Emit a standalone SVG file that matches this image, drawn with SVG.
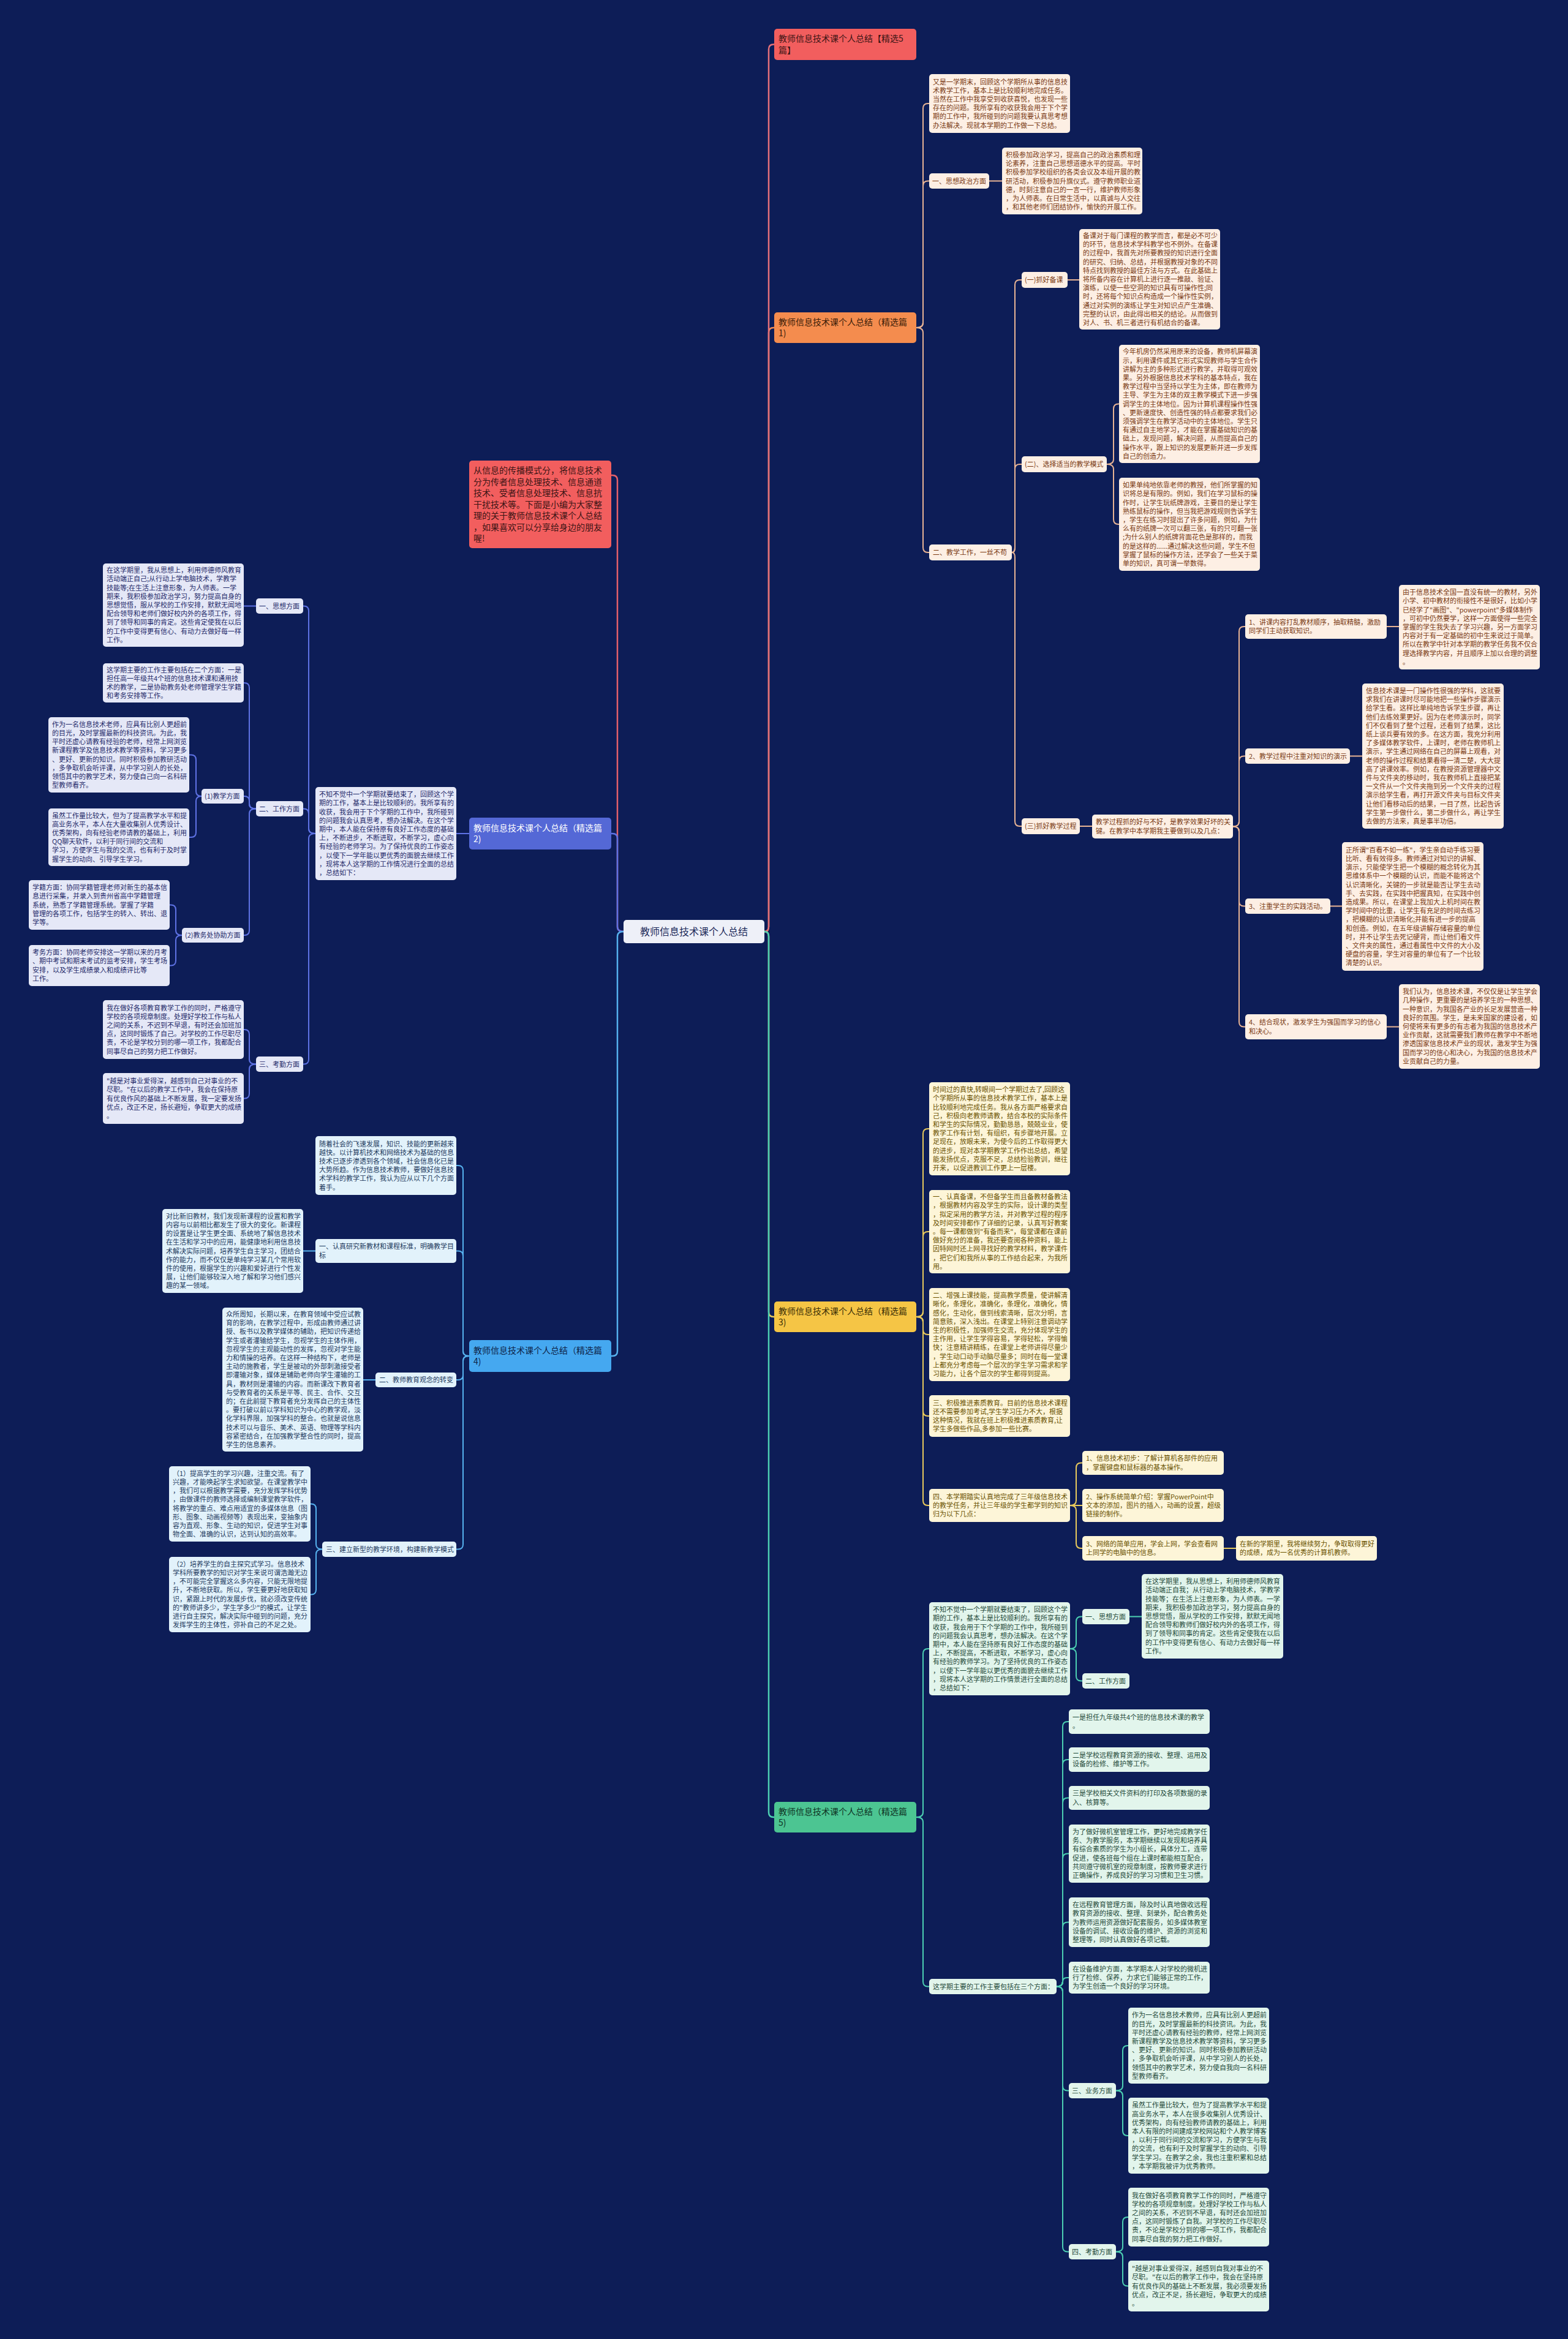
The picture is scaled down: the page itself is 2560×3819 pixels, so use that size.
<svg xmlns="http://www.w3.org/2000/svg" width="2560" height="3819" viewBox="0 0 2560 3819">
<style>
.s{font-family:"Noto Sans CJK SC","Noto Sans",sans-serif;font-size:11px}
.b{font-family:"Noto Sans CJK SC","Noto Sans",sans-serif;font-size:14px}
.f1{fill:#fdefe4}.t1{fill:#7a3a12}
.f2{fill:#e5e8f7}.t2{fill:#1f2a6a}
.f3{fill:#fdf5d8}.t3{fill:#6b5300}
.f4{fill:#e2f2fb}.t4{fill:#1d3a5e}
.f5{fill:#e2f5ec}.t5{fill:#1f4a3a}
.c1{stroke:#e7b394}.c2{stroke:#5e72e4}.c3{stroke:#e8c95c}.c4{stroke:#56b1ee}.c5{stroke:#4ccfb2}
</style>
<rect width="2560" height="3819" fill="#0d1d57"/>
<g id="connectors" fill="none" stroke-width="2" stroke-linecap="round">
<path stroke="#ee8a55" stroke-width="2.5" d="M1248,1521 Q1255,1521 1255,1513 V543 Q1255,535 1263,535 H1264"/>
<path stroke="#e4707a" stroke-width="2.5" d="M1248,1521 Q1255,1521 1255,1513 V80.5 Q1255,72.5 1263,72.5 H1264"/>
<path stroke="#e8c95c" stroke-width="2.5" d="M1248,1521 Q1255,1521 1255,1529 V2142 Q1255,2150 1263,2150 H1264"/>
<path stroke="#4ccfb2" stroke-width="2.5" d="M1248,1521 Q1255,1521 1255,1529 V2959 Q1255,2967 1263,2967 H1264"/>
<path stroke="#e4606a" stroke-width="2.5" d="M1018,1521 Q1008,1521 1008,1513 V784 Q1008,776 1000,776 H998"/>
<path stroke="#5e72e4" stroke-width="2.5" d="M1018,1521 Q1008,1521 1008,1513 V1369 Q1008,1361 1000,1361 H998"/>
<path stroke="#56b1ee" stroke-width="2.5" d="M1018,1521 Q1008,1521 1008,1529 V2206 Q1008,2214 1000,2214 H998"/>
<g class="c1">
<path d="M1496,535 Q1507,535 1507,527 V177 Q1507,169 1515,169 H1517"/>
<path d="M1496,535 Q1507,535 1507,527 V303.5 Q1507,295.5 1515,295.5 H1517"/>
<path d="M1496,535 Q1507,535 1507,543 V894 Q1507,902 1515,902 H1517"/>
<path d="M1615,295.5 H1636"/>
<path d="M1652,902 Q1657,902 1657,894 V465 Q1657,457 1665,457 H1668"/>
<path d="M1652,902 Q1657,902 1657,894 V766 Q1657,758 1665,758 H1668"/>
<path d="M1652,902 Q1657,902 1657,910 V1341 Q1657,1349 1665,1349 H1668"/>
<path d="M1743,457 H1762"/>
<path d="M1807,758 Q1818,758 1818,750 V667.5 Q1818,659.5 1826,659.5 H1827"/>
<path d="M1807,758 Q1818,758 1818,766 V848 Q1818,856 1826,856 H1827"/>
<path d="M1763,1349 H1783"/>
<path d="M2013,1349.5 Q2023,1349.5 2023,1341.5 V1031 Q2023,1023 2031,1023 H2033"/>
<path d="M2013,1349.5 Q2023,1349.5 2023,1341.5 V1242.5 Q2023,1234.5 2031,1234.5 H2033"/>
<path d="M2013,1349.5 Q2023,1349.5 2023,1357.5 V1471.5 Q2023,1479.5 2031,1479.5 H2033"/>
<path d="M2013,1349.5 Q2023,1349.5 2023,1357.5 V1668.5 Q2023,1676.5 2031,1676.5 H2033"/>
<path d="M2264,1023 H2284"/>
<path d="M2204,1234.5 H2224"/>
<path d="M2172,1479.5 H2191"/>
<path d="M2264,1676.5 H2284"/>
</g>
<g class="c3">
<path d="M1496,2150 Q1507,2150 1507,2142 V1851 Q1507,1843 1515,1843 H1517"/>
<path d="M1496,2150 Q1507,2150 1507,2142 V2019 Q1507,2011 1515,2011 H1517"/>
<path d="M1496,2150 Q1507,2150 1507,2158 V2171 Q1507,2179 1515,2179 H1517"/>
<path d="M1496,2150 Q1507,2150 1507,2158 V2304 Q1507,2312 1515,2312 H1517"/>
<path d="M1496,2150 Q1507,2150 1507,2158 V2450 Q1507,2458 1515,2458 H1517"/>
<path d="M1747,2458 Q1757,2458 1757,2450 V2396.5 Q1757,2388.5 1765,2388.5 H1767"/>
<path d="M1747,2458 H1767"/>
<path d="M1747,2458 Q1757,2458 1757,2466 V2520 Q1757,2528 1765,2528 H1767"/>
<path d="M1998,2528 H2018"/>
</g>
<g class="c5">
<path d="M1496,2967 Q1507,2967 1507,2959 V2700 Q1507,2692 1515,2692 H1517"/>
<path d="M1496,2967 Q1507,2967 1507,2975 V3235.5 Q1507,3243.5 1515,3243.5 H1517"/>
<path d="M1747,2692 Q1757,2692 1757,2684 V2647.5 Q1757,2639.5 1765,2639.5 H1767"/>
<path d="M1747,2692 Q1757,2692 1757,2700 V2736.5 Q1757,2744.5 1765,2744.5 H1767"/>
<path d="M1844,2639.5 H1864"/>
<path d="M1725,3243.5 Q1735,3243.5 1735,3235.5 V2819 Q1735,2811 1743,2811 H1745"/>
<path d="M1725,3243.5 Q1735,3243.5 1735,3235.5 V2881 Q1735,2873 1743,2873 H1745"/>
<path d="M1725,3243.5 Q1735,3243.5 1735,3235.5 V2943.5 Q1735,2935.5 1743,2935.5 H1745"/>
<path d="M1725,3243.5 Q1735,3243.5 1735,3235.5 V3034.5 Q1735,3026.5 1743,3026.5 H1745"/>
<path d="M1725,3243.5 Q1735,3243.5 1735,3235.5 V3146.5 Q1735,3138.5 1743,3138.5 H1745"/>
<path d="M1725,3243.5 Q1735,3243.5 1735,3236.25 Q1735,3229 1742,3229 H1745"/>
<path d="M1725,3243.5 Q1735,3243.5 1735,3251.5 V3405.5 Q1735,3413.5 1743,3413.5 H1745"/>
<path d="M1725,3243.5 Q1735,3243.5 1735,3251.5 V3668.5 Q1735,3676.5 1743,3676.5 H1745"/>
<path d="M1822,3413.5 Q1833,3413.5 1833,3405.5 V3348 Q1833,3340 1841,3340 H1842"/>
<path d="M1822,3413.5 Q1833,3413.5 1833,3421.5 V3479 Q1833,3487 1841,3487 H1842"/>
<path d="M1822,3676.5 Q1833,3676.5 1833,3668.5 V3628 Q1833,3620 1841,3620 H1842"/>
<path d="M1822,3676.5 Q1833,3676.5 1833,3684.5 V3724.5 Q1833,3732.5 1841,3732.5 H1842"/>
</g>
<g class="c2">
<path d="M766,1361 H745"/>
<path d="M515,1361 Q504,1361 504,1353 V997.5 Q504,989.5 496,989.5 H495"/>
<path d="M515,1361 Q504,1361 504,1353 V1328.5 Q504,1320.5 496,1320.5 H495"/>
<path d="M515,1361 Q504,1361 504,1369 V1729.5 Q504,1737.5 496,1737.5 H495"/>
<path d="M418,989.5 H398"/>
<path d="M418,1320.5 Q407,1320.5 407,1312.5 V1123 Q407,1115 399,1115 H398"/>
<path d="M418,1320.5 Q407,1320.5 407,1312.5 V1308 Q407,1300 399,1300 H398"/>
<path d="M418,1320.5 Q407,1320.5 407,1328.5 V1519 Q407,1527 399,1527 H398"/>
<path d="M329,1300 Q320,1300 320,1292 V1240.5 Q320,1232.5 312,1232.5 H309"/>
<path d="M329,1300 Q320,1300 320,1308 V1359 Q320,1367 312,1367 H309"/>
<path d="M297,1527 Q287,1527 287,1519 V1485.5 Q287,1477.5 279,1477.5 H277"/>
<path d="M297,1527 Q287,1527 287,1535 V1568.5 Q287,1576.5 279,1576.5 H277"/>
<path d="M418,1737.5 Q407,1737.5 407,1729.5 V1689 Q407,1681 399,1681 H398"/>
<path d="M418,1737.5 Q407,1737.5 407,1745.5 V1785.5 Q407,1793.5 399,1793.5 H398"/>
</g>
<g class="c4">
<path d="M766,2214 Q756,2214 756,2206 V1911 Q756,1903 748,1903 H745"/>
<path d="M766,2214 Q756,2214 756,2206 V2050.5 Q756,2042.5 748,2042.5 H745"/>
<path d="M766,2214 Q756,2214 756,2222 V2245 Q756,2253 748,2253 H745"/>
<path d="M766,2214 Q756,2214 756,2222 V2521.5 Q756,2529.5 748,2529.5 H745"/>
<path d="M515,2042.5 H495"/>
<path d="M613,2253 H593"/>
<path d="M526,2529.5 Q516,2529.5 516,2521.5 V2463.5 Q516,2455.5 508,2455.5 H507"/>
<path d="M526,2529.5 Q516,2529.5 516,2537.5 V2595.5 Q516,2603.5 508,2603.5 H507"/>
</g>
</g>

<g id="root"><rect x="1018" y="1502" width="230" height="38" rx="5" fill="#eef0f8"/><text class="b" x="1133" y="1527" text-anchor="middle" fill="#1d2a5a" style="font-size:16px">教师信息技术课个人总结</text></g>

<g id="b1-title"><rect x="1264" y="47" width="232" height="51" rx="5" fill="#f25e5e"/><text class="b" fill="#3c1515"><tspan x="1271" y="68.4">教师信息技术课个人总结【精选5</tspan><tspan x="1271" dy="18.3">篇】</tspan></text></g>
<g id="intro"><rect x="766" y="752" width="232" height="143" rx="5" fill="#f25e5e"/><text class="b" fill="#3c1515"><tspan x="773" y="773">从信息的传播模式分，将信息技术</tspan><tspan x="773" dy="18.5">分为传者信息处理技术、信息通道</tspan><tspan x="773" dy="18.5">技术、受者信息处理技术、信息抗</tspan><tspan x="773" dy="18.5">干扰技术等。下面是小编为大家整</tspan><tspan x="773" dy="18.5">理的关于教师信息技术课个人总结</tspan><tspan x="773" dy="18.5">，如果喜欢可以分享给身边的朋友</tspan><tspan x="773" dy="18.5">喔!</tspan></text></g>
<g id="b1"><rect x="1264" y="510" width="232" height="50" rx="5" fill="#f48c4e"/><text class="b" fill="#3a1c08"><tspan x="1271" y="530.9">教师信息技术课个人总结（精选篇</tspan><tspan x="1271" dy="18.3">1)</tspan></text></g>
<g id="b2"><rect x="766" y="1335" width="232" height="52" rx="5" fill="#5468d6"/><text class="b" fill="#ffffff"><tspan x="773" y="1356.9">教师信息技术课个人总结（精选篇</tspan><tspan x="773" dy="18.3">2)</tspan></text></g>
<g id="b3"><rect x="1264" y="2125" width="232" height="50" rx="5" fill="#f5c545"/><text class="b" fill="#3a2e05"><tspan x="1271" y="2145.9">教师信息技术课个人总结（精选篇</tspan><tspan x="1271" dy="18.3">3)</tspan></text></g>
<g id="b4"><rect x="766" y="2188" width="232" height="52" rx="5" fill="#45a8f0"/><text class="b" fill="#0e2448"><tspan x="773" y="2209.9">教师信息技术课个人总结（精选篇</tspan><tspan x="773" dy="18.3">4)</tspan></text></g>
<g id="b5"><rect x="1264" y="2942" width="232" height="50" rx="5" fill="#4cc592"/><text class="b" fill="#0e3324"><tspan x="1271" y="2962.9">教师信息技术课个人总结（精选篇</tspan><tspan x="1271" dy="18.3">5)</tspan></text></g>

<g id="b1-a1"><rect class="f1" x="1517" y="121" width="230" height="96" rx="5"/><text class="s t1"><tspan x="1523" y="137.5">又是一学期末，回顾这个学期所从事的信息技</tspan><tspan x="1523" dy="14.2">术教学工作，基本上是比较顺利地完成任务。</tspan><tspan x="1523" dy="14.2">当然在工作中我享受到收获喜悦，也发现一些</tspan><tspan x="1523" dy="14.2">存在的问题。我所享有的收获我会用于下个学</tspan><tspan x="1523" dy="14.2">期的工作中，我所碰到的问题我要认真思考想</tspan><tspan x="1523" dy="14.2">办法解决。现就本学期的工作做一下总结。</tspan></text></g>
<g id="b1-s1"><rect class="f1" x="1517" y="283" width="98" height="25" rx="5"/><text class="s t1" x="1522" y="299.5">一、思想政治方面</text></g>
<g id="b1-s1a"><rect class="f1" x="1636" y="241" width="229" height="109" rx="5"/><text class="s t1"><tspan x="1642" y="256.9">积极参加政治学习，提高自己的政治素质和理</tspan><tspan x="1642" dy="14.2">论素养，注重自己思想道德水平的提高。平时</tspan><tspan x="1642" dy="14.2">积极参加学校组织的各类会议及本组开展的教</tspan><tspan x="1642" dy="14.2">研活动，积极参加升旗仪式。遵守教师职业道</tspan><tspan x="1642" dy="14.2">德，时刻注意自己的一言一行，维护教师形象</tspan><tspan x="1642" dy="14.2">，为人师表。在日常生活中，以真诚与人交往</tspan><tspan x="1642" dy="14.2">，和其他老师们团结协作，愉快的开展工作。</tspan></text></g>
<g id="b1-s2"><rect class="f1" x="1517" y="889" width="135" height="26" rx="5"/><text class="s t1" x="1523" y="906">二、教学工作，一丝不苟</text></g>
<g id="b1-p1"><rect class="f1" x="1668" y="444" width="75" height="26" rx="5"/><text class="s t1" x="1673" y="461">(一)抓好备课</text></g>
<g id="b1-p1a"><rect class="f1" x="1762" y="374" width="230" height="164" rx="5"/><text class="s t1"><tspan x="1768" y="389">备课对于每门课程的教学而言，都是必不可少</tspan><tspan x="1768" dy="14.2">的环节，信息技术学科教学也不例外。在备课</tspan><tspan x="1768" dy="14.2">的过程中，我首先对所要教授的知识进行全面</tspan><tspan x="1768" dy="14.2">的研究、归纳、总结，并根据教授对象的不同</tspan><tspan x="1768" dy="14.2">特点找到教授的最佳方法与方式。在此基础上</tspan><tspan x="1768" dy="14.2">将所备内容在计算机上进行逐一推敲、验证、</tspan><tspan x="1768" dy="14.2">演练，以使一些空洞的知识具有可操作性;同</tspan><tspan x="1768" dy="14.2">时，还将每个知识点构造成一个操作性实例，</tspan><tspan x="1768" dy="14.2">通过对实例的演练让学生对知识点产生准确、</tspan><tspan x="1768" dy="14.2">完整的认识，由此得出相关的结论。从而做到</tspan><tspan x="1768" dy="14.2">对人、书、机三者进行有机结合的备课。</tspan></text></g>
<g id="b1-p2"><rect class="f1" x="1668" y="745" width="139" height="26" rx="5"/><text class="s t1" x="1673" y="762">(二)、选择适当的教学模式</text></g>
<g id="b1-p2a"><rect class="f1" x="1827" y="563" width="230" height="193" rx="5"/><text class="s t1"><tspan x="1833" y="578.3">今年机房仍然采用原来的设备，教师机屏幕演</tspan><tspan x="1833" dy="14.2">示，利用课件或其它形式实现教师与学生合作</tspan><tspan x="1833" dy="14.2">讲解为主的多种形式进行教学，并取得可观效</tspan><tspan x="1833" dy="14.2">果。另外根据信息技术学科的基本特点，我在</tspan><tspan x="1833" dy="14.2">教学过程中当坚持以学生为主体，即在教师为</tspan><tspan x="1833" dy="14.2">主导、学生为主体的双主教学模式下进一步强</tspan><tspan x="1833" dy="14.2">调学生的主体地位。因为计算机课程操作性强</tspan><tspan x="1833" dy="14.2">、更新速度快、创造性强的特点都要求我们必</tspan><tspan x="1833" dy="14.2">须强调学生在教学活动中的主体地位。学生只</tspan><tspan x="1833" dy="14.2">有通过自主地学习，才能在掌握基础知识的基</tspan><tspan x="1833" dy="14.2">础上，发现问题，解决问题，从而提高自己的</tspan><tspan x="1833" dy="14.2">操作水平，跟上知识的发展更新并进一步发挥</tspan><tspan x="1833" dy="14.2">自己的创造力。</tspan></text></g>
<g id="b1-p2b"><rect class="f1" x="1827" y="780" width="230" height="152" rx="5"/><text class="s t1"><tspan x="1833" y="796.1">如果单纯地依靠老师的教授，他们所掌握的知</tspan><tspan x="1833" dy="14.2">识将总是有限的。例如，我们在学习鼠标的操</tspan><tspan x="1833" dy="14.2">作时，让学生玩纸牌游戏，主要目的是让学生</tspan><tspan x="1833" dy="14.2">熟练鼠标的操作，但当我把游戏规则告诉学生</tspan><tspan x="1833" dy="14.2">，学生在练习时提出了许多问题，例如，为什</tspan><tspan x="1833" dy="14.2">么有的纸牌一次可以翻三张，有的只可翻一张</tspan><tspan x="1833" dy="14.2">;为什么别人的纸牌背面花色是那样的，而我</tspan><tspan x="1833" dy="14.2">的是这样的......通过解决这些问题，学生不但</tspan><tspan x="1833" dy="14.2">掌握了鼠标的操作方法，还学会了一些关于菜</tspan><tspan x="1833" dy="14.2">单的知识，真可谓一举数得。</tspan></text></g>
<g id="b1-p3"><rect class="f1" x="1668" y="1336" width="95" height="26" rx="5"/><text class="s t1" x="1673" y="1353">(三)抓好教学过程</text></g>
<g id="b1-p3a"><rect class="f1" x="1783" y="1330" width="230" height="39" rx="5"/><text class="s t1"><tspan x="1789" y="1346.4">教学过程抓的好与不好，是教学效果好坏的关</tspan><tspan x="1789" dy="14.2">键。在教学中本学期我主要做到以及几点：</tspan></text></g>
<g id="b1-q1"><rect class="f1" x="2033" y="1003" width="231" height="40" rx="5"/><text class="s t1"><tspan x="2039" y="1019.9">1、讲课内容打乱教材顺序，抽取精髓，激励</tspan><tspan x="2039" dy="14.2">同学们主动获取知识。</tspan></text></g>
<g id="b1-q1a"><rect class="f1" x="2284" y="955" width="230" height="138" rx="5"/><text class="s t1"><tspan x="2290" y="971.2">由于信息技术全国一直没有统一的教材，另外</tspan><tspan x="2290" dy="14.2">小学、初中教材的衔接性不是很好，比如小学</tspan><tspan x="2290" dy="14.2">已经学了"画图"、"powerpoint"多媒体制作</tspan><tspan x="2290" dy="14.2">，可初中仍然要学，这样一方面使得一些完全</tspan><tspan x="2290" dy="14.2">掌握的学生我失去了学习兴趣，另一方面学习</tspan><tspan x="2290" dy="14.2">内容对于有一定基础的初中生来说过于简单。</tspan><tspan x="2290" dy="14.2">所以在教学中针对本学期的教学任务我不仅合</tspan><tspan x="2290" dy="14.2">理选择教学内容，并且顺序上加以合理的调整</tspan><tspan x="2290" dy="14.2">。</tspan></text></g>
<g id="b1-q2"><rect class="f1" x="2033" y="1222" width="171" height="25" rx="5"/><text class="s t1" x="2039" y="1238.5">2、教学过程中注重对知识的演示</text></g>
<g id="b1-q2a"><rect class="f1" x="2224" y="1116" width="231" height="237" rx="5"/><text class="s t1"><tspan x="2230" y="1132">信息技术课是一门操作性很强的学科，这就要</tspan><tspan x="2230" dy="14.2">求我们在讲课时尽可能地把一些操作步骤演示</tspan><tspan x="2230" dy="14.2">给学生看。这样比单纯地告诉学生步骤，再让</tspan><tspan x="2230" dy="14.2">他们去练效果更好。因为在老师演示时，同学</tspan><tspan x="2230" dy="14.2">们不仅看到了整个过程，还看到了结果，这比</tspan><tspan x="2230" dy="14.2">纸上谈兵要有效的多。在这方面，我充分利用</tspan><tspan x="2230" dy="14.2">了多媒体教学软件，上课时，老师在教师机上</tspan><tspan x="2230" dy="14.2">演示，学生通过网络在自己的屏幕上观看，对</tspan><tspan x="2230" dy="14.2">老师的操作过程和结果看得一清二楚，大大提</tspan><tspan x="2230" dy="14.2">高了讲课效率。例如，在教授资源管理器中文</tspan><tspan x="2230" dy="14.2">件与文件夹的移动时，我在教师机上直接把某</tspan><tspan x="2230" dy="14.2">一文件从一个文件夹拖到另一个文件夹的过程</tspan><tspan x="2230" dy="14.2">演示给学生看，再打开源文件夹与目标文件夹</tspan><tspan x="2230" dy="14.2">让他们看移动后的结果，一目了然，比起告诉</tspan><tspan x="2230" dy="14.2">学生第一步做什么，第二步做什么，再让学生</tspan><tspan x="2230" dy="14.2">去做的方法来，真是事半功倍。</tspan></text></g>
<g id="b1-q3"><rect class="f1" x="2033" y="1467" width="139" height="25" rx="5"/><text class="s t1" x="2039" y="1483.5">3、注重学生的实践活动。</text></g>
<g id="b1-q3a"><rect class="f1" x="2191" y="1375" width="231" height="210" rx="5"/><text class="s t1"><tspan x="2197" y="1391.7">正所谓"百看不如一练"，学生亲自动手练习要</tspan><tspan x="2197" dy="14.2">比听、看有效得多。教师通过对知识的讲解、</tspan><tspan x="2197" dy="14.2">演示，只能使学生把一个模糊的概念转化为其</tspan><tspan x="2197" dy="14.2">思维体系中一个模糊的认识，而能不能将这个</tspan><tspan x="2197" dy="14.2">认识清晰化，关键的一步就是能否让学生去动</tspan><tspan x="2197" dy="14.2">手、去实践，在实践中把握真知，在实践中创</tspan><tspan x="2197" dy="14.2">造成果。所以，在课堂上我加大上机时间在教</tspan><tspan x="2197" dy="14.2">学时间中的比重，让学生有充足的时间去练习</tspan><tspan x="2197" dy="14.2">，把模糊的认识清晰化;并能有进一步的提高</tspan><tspan x="2197" dy="14.2">和创造。例如，在五年级讲解存储容量的单位</tspan><tspan x="2197" dy="14.2">时，并不让学生去死记硬背，而让他们看文件</tspan><tspan x="2197" dy="14.2">、文件夹的属性，通过看属性中文件的大小及</tspan><tspan x="2197" dy="14.2">硬盘的容量，学生对容量的单位有了一个比较</tspan><tspan x="2197" dy="14.2">清楚的认识。</tspan></text></g>
<g id="b1-q4"><rect class="f1" x="2033" y="1656" width="231" height="41" rx="5"/><text class="s t1"><tspan x="2039" y="1673.4">4、结合现状，激发学生为强国而学习的信心</tspan><tspan x="2039" dy="14.2">和决心。</tspan></text></g>
<g id="b1-q4a"><rect class="f1" x="2284" y="1607" width="230" height="138" rx="5"/><text class="s t1"><tspan x="2290" y="1623.2">我们认为，信息技术课，不仅仅是让学生学会</tspan><tspan x="2290" dy="14.2">几种操作，更重要的是培养学生的一种思想、</tspan><tspan x="2290" dy="14.2">一种意识，为我国各产业的长足发展营造一种</tspan><tspan x="2290" dy="14.2">良好的氛围。学生，是未来国家的建设者，如</tspan><tspan x="2290" dy="14.2">何使将来有更多的有志者为我国的信息技术产</tspan><tspan x="2290" dy="14.2">业作贡献，这就需要我们教师在教学中不断地</tspan><tspan x="2290" dy="14.2">渗透国家信息技术产业的现状，激发学生为强</tspan><tspan x="2290" dy="14.2">国而学习的信心和决心，为我国的信息技术产</tspan><tspan x="2290" dy="14.2">业贡献自己的力量。</tspan></text></g>

<g id="b2-a"><rect class="f2" x="515" y="1285" width="230" height="152" rx="5"/><text class="s t2"><tspan x="521" y="1301.1">不知不觉中一个学期就要结束了，回顾这个学</tspan><tspan x="521" dy="14.2">期的工作，基本上是比较顺利的。我所享有的</tspan><tspan x="521" dy="14.2">收获，我会用于下个学期的工作中，我所碰到</tspan><tspan x="521" dy="14.2">的问题我会认真思考，想办法解决。在这个学</tspan><tspan x="521" dy="14.2">期中，本人能在保持原有良好工作态度的基础</tspan><tspan x="521" dy="14.2">上，不断进步，不断进取，不断学习，虚心向</tspan><tspan x="521" dy="14.2">有经验的老师学习。为了保持优良的工作姿态</tspan><tspan x="521" dy="14.2">，以使下一学年能以更优秀的面貌去继续工作</tspan><tspan x="521" dy="14.2">，现将本人这学期的工作情况进行全面的总结</tspan><tspan x="521" dy="14.2">，总结如下：</tspan></text></g>
<g id="b2-s1"><rect class="f2" x="418" y="977" width="77" height="25" rx="5"/><text class="s t2" x="423" y="993.5">一、思想方面</text></g>
<g id="b2-s1a"><rect class="f2" x="168" y="920" width="230" height="136" rx="5"/><text class="s t2"><tspan x="174" y="935.2">在这学期里，我从思想上，利用师德师风教育</tspan><tspan x="174" dy="14.2">活动端正自己;从行动上学电脑技术，学教学</tspan><tspan x="174" dy="14.2">技能等;在生活上注意形象，为人师表。一学</tspan><tspan x="174" dy="14.2">期来，我积极参加政治学习，努力提高自身的</tspan><tspan x="174" dy="14.2">思想觉悟，服从学校的工作安排，默默无闻地</tspan><tspan x="174" dy="14.2">配合领导和老师们做好校内外的各项工作，得</tspan><tspan x="174" dy="14.2">到了领导和同事的肯定。这些肯定使我在以后</tspan><tspan x="174" dy="14.2">的工作中变得更有信心、有动力去做好每一样</tspan><tspan x="174" dy="14.2">工作。</tspan></text></g>
<g id="b2-s2"><rect class="f2" x="418" y="1308" width="77" height="25" rx="5"/><text class="s t2" x="423" y="1324.5">二、工作方面</text></g>
<g id="b2-s2a"><rect class="f2" x="168" y="1083" width="230" height="64" rx="5"/><text class="s t2"><tspan x="174" y="1097.7">这学期主要的工作主要包括在二个方面：一是</tspan><tspan x="174" dy="14.2">担任高一年级共4个班的信息技术课和通用技</tspan><tspan x="174" dy="14.2">术的教学，二是协助教务处老师管理学生学籍</tspan><tspan x="174" dy="14.2">和考务安排等工作。</tspan></text></g>
<g id="b2-t1"><rect class="f2" x="329" y="1288" width="69" height="24" rx="5"/><text class="s t2" x="334" y="1304">(1)教学方面</text></g>
<g id="b2-t1a"><rect class="f2" x="79" y="1171" width="230" height="123" rx="5"/><text class="s t2"><tspan x="85" y="1186.8">作为一名信息技术老师，应具有比别人更超前</tspan><tspan x="85" dy="14.2">的目光，及时掌握最新的科技资讯。为此，我</tspan><tspan x="85" dy="14.2">平时还虚心请教有经验的老师，经常上网浏览</tspan><tspan x="85" dy="14.2">新课程教学及信息技术教学等资料，学习更多</tspan><tspan x="85" dy="14.2">、更好、更新的知识。同时积极参加教研活动</tspan><tspan x="85" dy="14.2">，多争取机会听评课，从中学习别人的长处，</tspan><tspan x="85" dy="14.2">领悟其中的教学艺术，努力使自己向一名科研</tspan><tspan x="85" dy="14.2">型教师看齐。</tspan></text></g>
<g id="b2-t1b"><rect class="f2" x="79" y="1320" width="230" height="94" rx="5"/><text class="s t2"><tspan x="85" y="1335.5">虽然工作量比较大，但为了提高教学水平和提</tspan><tspan x="85" dy="14.2">高业务水平，本人在大量收集别人优秀设计、</tspan><tspan x="85" dy="14.2">优秀架构，向有经验老师请教的基础上，利用</tspan><tspan x="85" dy="14.2">QQ聊天软件，以利于同行间的交流和</tspan><tspan x="85" dy="14.2">学习，方便学生与我的交流，也有利于及时掌</tspan><tspan x="85" dy="14.2">握学生的动向、引导学生学习。</tspan></text></g>
<g id="b2-t2"><rect class="f2" x="297" y="1515" width="101" height="24" rx="5"/><text class="s t2" x="302" y="1531">(2)教务处协助方面</text></g>
<g id="b2-t2a"><rect class="f2" x="47" y="1437" width="230" height="81" rx="5"/><text class="s t2"><tspan x="53" y="1453.1">学籍方面：协同学籍管理老师对新生的基本信</tspan><tspan x="53" dy="14.2">息进行采集，并录入到贵州省高中学籍管理</tspan><tspan x="53" dy="14.2">系统，熟悉了学籍管理系统。掌握了学籍</tspan><tspan x="53" dy="14.2">管理的各项工作，包括学生的转入、转出、退</tspan><tspan x="53" dy="14.2">学等。</tspan></text></g>
<g id="b2-t2b"><rect class="f2" x="47" y="1543" width="230" height="67" rx="5"/><text class="s t2"><tspan x="53" y="1559.2">考务方面：协同老师安排这一学期以来的月考</tspan><tspan x="53" dy="14.2">、期中考试和期末考试的监考安排，学生考场</tspan><tspan x="53" dy="14.2">安排，以及学生成绩录入和成绩评比等</tspan><tspan x="53" dy="14.2">工作。</tspan></text></g>
<g id="b2-s3"><rect class="f2" x="418" y="1725" width="77" height="25" rx="5"/><text class="s t2" x="423" y="1741.5">三、考勤方面</text></g>
<g id="b2-s3a"><rect class="f2" x="168" y="1633" width="230" height="96" rx="5"/><text class="s t2"><tspan x="174" y="1649.5">我在做好各项教育教学工作的同时，严格遵守</tspan><tspan x="174" dy="14.2">学校的各项规章制度。处理好学校工作与私人</tspan><tspan x="174" dy="14.2">之间的关系，不迟到不早退，有时还会加班加</tspan><tspan x="174" dy="14.2">点，这同时锻炼了自己。对学校的工作尽职尽</tspan><tspan x="174" dy="14.2">责，不论是学校分到的哪一项工作，我都配合</tspan><tspan x="174" dy="14.2">同事尽自己的努力把工作做好。</tspan></text></g>
<g id="b2-s3b"><rect class="f2" x="168" y="1752" width="230" height="83" rx="5"/><text class="s t2"><tspan x="174" y="1769.1">"越是对事业爱得深，越感到自己对事业的不</tspan><tspan x="174" dy="14.2">尽职。"在以后的教学工作中，我会在保持原</tspan><tspan x="174" dy="14.2">有优良作风的基础上不断发展，我一定要发扬</tspan><tspan x="174" dy="14.2">优点，改正不足，扬长避短，争取更大的成绩</tspan><tspan x="174" dy="14.2">。</tspan></text></g>

<g id="b3-a"><rect class="f3" x="1517" y="1767" width="230" height="152" rx="5"/><text class="s t3"><tspan x="1523" y="1783.1">时间过的真快,转眼间一个学期过去了,回顾这</tspan><tspan x="1523" dy="14.2">个学期所从事的信息技术教学工作，基本上是</tspan><tspan x="1523" dy="14.2">比较顺利地完成任务。我从各方面严格要求自</tspan><tspan x="1523" dy="14.2">己，积极向老教师请教，结合本校的实际条件</tspan><tspan x="1523" dy="14.2">和学生的实际情况，勤勤恳恳，兢兢业业，使</tspan><tspan x="1523" dy="14.2">教学工作有计划，有组织，有步骤地开展。立</tspan><tspan x="1523" dy="14.2">足现在，放眼未来，为使今后的工作取得更大</tspan><tspan x="1523" dy="14.2">的进步，现对本学期教学工作作出总结，希望</tspan><tspan x="1523" dy="14.2">能发扬优点，克服不足，总结检验教训，继往</tspan><tspan x="1523" dy="14.2">开来，以促进教训工作更上一层楼。</tspan></text></g>
<g id="b3-b"><rect class="f3" x="1517" y="1943" width="230" height="136" rx="5"/><text class="s t3"><tspan x="1523" y="1958.2">一、认真备课，不但备学生而且备教材备教法</tspan><tspan x="1523" dy="14.2">，根据教材内容及学生的实际，设计课的类型</tspan><tspan x="1523" dy="14.2">，拟定采用的教学方法，并对教学过程的程序</tspan><tspan x="1523" dy="14.2">及时间安排都作了详细的记录，认真写好教案</tspan><tspan x="1523" dy="14.2">。每一课都做到"有备而来"，每堂课都在课前</tspan><tspan x="1523" dy="14.2">做好充分的准备，我还要查阅各种资料，能上</tspan><tspan x="1523" dy="14.2">因特网时还上网寻找好的教学材料，教学课件</tspan><tspan x="1523" dy="14.2">，把它们和我所从事的工作结合起来，为我所</tspan><tspan x="1523" dy="14.2">用。</tspan></text></g>
<g id="b3-c"><rect class="f3" x="1517" y="2103" width="230" height="152" rx="5"/><text class="s t3"><tspan x="1523" y="2119.1">二、增强上课技能，提高教学质量，使讲解清</tspan><tspan x="1523" dy="14.2">晰化，条理化，准确化，条理化，准确化，情</tspan><tspan x="1523" dy="14.2">感化，生动化，做到线索清晰，层次分明，言</tspan><tspan x="1523" dy="14.2">简意赅，深入浅出。在课堂上特别注意调动学</tspan><tspan x="1523" dy="14.2">生的积极性，加强师生交流，充分体现学生的</tspan><tspan x="1523" dy="14.2">主作用，让学生学得容易，学得轻松，学得愉</tspan><tspan x="1523" dy="14.2">快；注意精讲精练，在课堂上老师讲得尽量少</tspan><tspan x="1523" dy="14.2">，学生动口动手动脑尽量多；同时在每一堂课</tspan><tspan x="1523" dy="14.2">上都充分考虑每一个层次的学生学习需求和学</tspan><tspan x="1523" dy="14.2">习能力，让各个层次的学生都得到提高。</tspan></text></g>
<g id="b3-d"><rect class="f3" x="1517" y="2278" width="230" height="68" rx="5"/><text class="s t3"><tspan x="1523" y="2294.7">三、积极推进素质教育。目前的信息技术课程</tspan><tspan x="1523" dy="14.2">还不需要参加考试,学生学习压力不大，根据</tspan><tspan x="1523" dy="14.2">这种情况，我就在班上积极推进素质教育,让</tspan><tspan x="1523" dy="14.2">学生多做些作品,多参加一些比赛。</tspan></text></g>
<g id="b3-e"><rect class="f3" x="1517" y="2431" width="230" height="54" rx="5"/><text class="s t3"><tspan x="1523" y="2447.8">四、本学期踏实认真地完成了三年级信息技术</tspan><tspan x="1523" dy="14.2">的教学任务，并让三年级的学生都学到的知识</tspan><tspan x="1523" dy="14.2">归为以下几点：</tspan></text></g>
<g id="b3-e1"><rect class="f3" x="1767" y="2369" width="231" height="39" rx="5"/><text class="s t3"><tspan x="1773" y="2385.4">1、信息技术初步：了解计算机各部件的应用</tspan><tspan x="1773" dy="14.2">，掌握键盘和鼠标器的基本操作。</tspan></text></g>
<g id="b3-e2"><rect class="f3" x="1767" y="2431" width="231" height="54" rx="5"/><text class="s t3"><tspan x="1773" y="2447.8">2、操作系统简单介绍：掌握PowerPoint中</tspan><tspan x="1773" dy="14.2">文本的添加，图片的插入，动画的设置，超级</tspan><tspan x="1773" dy="14.2">链接的制作。</tspan></text></g>
<g id="b3-e3"><rect class="f3" x="1767" y="2508" width="231" height="40" rx="5"/><text class="s t3"><tspan x="1773" y="2524.9">3、网络的简单应用，学会上网，学会查看网</tspan><tspan x="1773" dy="14.2">上同学的电脑中的信息。</tspan></text></g>
<g id="b3-e3a"><rect class="f3" x="2018" y="2508" width="230" height="40" rx="5"/><text class="s t3"><tspan x="2024" y="2524.9">在新的学期里，我将继续努力，争取取得更好</tspan><tspan x="2024" dy="14.2">的成绩，成为一名优秀的计算机教师。</tspan></text></g>

<g id="b4-a"><rect class="f4" x="515" y="1855" width="230" height="96" rx="5"/><text class="s t4"><tspan x="521" y="1871.5">随着社会的飞速发展，知识、技能的更新越来</tspan><tspan x="521" dy="14.2">越快。以计算机技术和网络技术为基础的信息</tspan><tspan x="521" dy="14.2">技术已逐步渗透到各个领域，社会信息化已是</tspan><tspan x="521" dy="14.2">大势所趋。作为信息技术教师，要做好信息技</tspan><tspan x="521" dy="14.2">术学科的教学工作，我认为应从以下几个方面</tspan><tspan x="521" dy="14.2">着手。</tspan></text></g>
<g id="b4-s1"><rect class="f4" x="515" y="2023" width="230" height="39" rx="5"/><text class="s t4"><tspan x="521" y="2039.4">一、认真研究新教材和课程标准，明确教学目</tspan><tspan x="521" dy="14.2">标</tspan></text></g>
<g id="b4-s1a"><rect class="f4" x="265" y="1974" width="230" height="137" rx="5"/><text class="s t4"><tspan x="271" y="1989.7">对比新旧教材，我们发现新课程的设置和教学</tspan><tspan x="271" dy="14.2">内容与以前相比都发生了很大的变化。新课程</tspan><tspan x="271" dy="14.2">的设置是让学生更全面、系统地了解信息技术</tspan><tspan x="271" dy="14.2">在生活和学习中的应用，能健康地利用信息技</tspan><tspan x="271" dy="14.2">术解决实际问题，培养学生自主学习，团结合</tspan><tspan x="271" dy="14.2">作的能力，而不仅仅是单纯学习某几个常用软</tspan><tspan x="271" dy="14.2">件的使用，根据学生的兴趣和爱好进行个性发</tspan><tspan x="271" dy="14.2">展，让他们能够较深入地了解和学习他们感兴</tspan><tspan x="271" dy="14.2">趣的某一领域。</tspan></text></g>
<g id="b4-s2"><rect class="f4" x="613" y="2241" width="132" height="24" rx="5"/><text class="s t4" x="619" y="2257">二、教师教育观念的转变</text></g>
<g id="b4-s2a"><rect class="f4" x="363" y="2135" width="230" height="235" rx="5"/><text class="s t4"><tspan x="369" y="2150">众所周知，长期以来，在教育领域中受应试教</tspan><tspan x="369" dy="14.2">育的影响，在教学过程中，形成由教师通过讲</tspan><tspan x="369" dy="14.2">授、板书以及教学媒体的辅助，把知识传递给</tspan><tspan x="369" dy="14.2">学生或者灌输给学生，忽视学生的主体作用，</tspan><tspan x="369" dy="14.2">忽视学生的主观能动性的发挥，忽视对学生能</tspan><tspan x="369" dy="14.2">力和情操的培养。在这样一种结构下，老师是</tspan><tspan x="369" dy="14.2">主动的施教者，学生是被动的外部刺激接受者</tspan><tspan x="369" dy="14.2">即灌输对象，媒体是辅助老师向学生灌输的工</tspan><tspan x="369" dy="14.2">具，教材则是灌输的内容。而新课改下教育者</tspan><tspan x="369" dy="14.2">与受教育者的关系是平等、民主、合作、交互</tspan><tspan x="369" dy="14.2">的；在此前提下教育者充分发挥自己的主体性</tspan><tspan x="369" dy="14.2">。要打破以前以学科知识为中心的教学观，淡</tspan><tspan x="369" dy="14.2">化学科界限，加强学科的整合。也就是说信息</tspan><tspan x="369" dy="14.2">技术可以与音乐、美术、英语、物理等学科内</tspan><tspan x="369" dy="14.2">容紧密结合，在加强教学整合性的同时，提高</tspan><tspan x="369" dy="14.2">学生的信息素养。</tspan></text></g>
<g id="b4-s3"><rect class="f4" x="526" y="2517" width="219" height="25" rx="5"/><text class="s t4" x="532" y="2533.5">三、建立新型的教学环境，构建新教学模式</text></g>
<g id="b4-s3a"><rect class="f4" x="276" y="2394" width="231" height="123" rx="5"/><text class="s t4"><tspan x="282" y="2409.8">（1）提高学生的学习兴趣，注重交流。有了</tspan><tspan x="282" dy="14.2">兴趣，才能唤起学生求知欲望。在课堂教学中</tspan><tspan x="282" dy="14.2">，我们可以根据教学需要，充分发挥学科优势</tspan><tspan x="282" dy="14.2">，由做课件的教师选择或编制课堂教学软件，</tspan><tspan x="282" dy="14.2">将教学的重点、难点用适宜的多媒体信息（图</tspan><tspan x="282" dy="14.2">形、图象、动画视频等）表现出来，变抽象内</tspan><tspan x="282" dy="14.2">容为直观、形象、生动的知识，促进学生对事</tspan><tspan x="282" dy="14.2">物全面、准确的认识，达到认知的高效率。</tspan></text></g>
<g id="b4-s3b"><rect class="f4" x="276" y="2542" width="231" height="123" rx="5"/><text class="s t4"><tspan x="282" y="2557.8">（2）培养学生的自主探究式学习。信息技术</tspan><tspan x="282" dy="14.2">学科所要教学的知识对学生来说可谓浩瀚无边</tspan><tspan x="282" dy="14.2">，不可能完全掌握这么多内容，只能无限地提</tspan><tspan x="282" dy="14.2">升，不断地获取。所以，学生要更好地获取知</tspan><tspan x="282" dy="14.2">识，紧跟上时代的发展步伐，就必须改变传统</tspan><tspan x="282" dy="14.2">的"教师讲多少，学生学多少"的模式，让学生</tspan><tspan x="282" dy="14.2">进行自主探究，解决实际中碰到的问题，充分</tspan><tspan x="282" dy="14.2">发挥学生的主体性，弥补自己的不足之处。</tspan></text></g>

<g id="b5-a"><rect class="f5" x="1517" y="2616" width="230" height="152" rx="5"/><text class="s t5"><tspan x="1523" y="2632.1">不知不觉中一个学期就要结束了，回顾这个学</tspan><tspan x="1523" dy="14.2">期的工作，基本上是比较顺利的。我所享有的</tspan><tspan x="1523" dy="14.2">收获，我会用于下个学期的工作中，我所碰到</tspan><tspan x="1523" dy="14.2">的问题我会认真思考，想办法解决。在这个学</tspan><tspan x="1523" dy="14.2">期中，本人能在坚持原有良好工作态度的基础</tspan><tspan x="1523" dy="14.2">上，不断提高，不断进取，不断学习，虚心向</tspan><tspan x="1523" dy="14.2">有经验的教师学习。为了坚持优良的工作姿态</tspan><tspan x="1523" dy="14.2">，以使下一学年能以更优秀的面貌去继续工作</tspan><tspan x="1523" dy="14.2">，现将本人这学期的工作情景进行全面的总结</tspan><tspan x="1523" dy="14.2">，总结如下：</tspan></text></g>
<g id="b5-s1"><rect class="f5" x="1767" y="2627" width="77" height="25" rx="5"/><text class="s t5" x="1772" y="2643.5">一、思想方面</text></g>
<g id="b5-s1a"><rect class="f5" x="1864" y="2570" width="231" height="138" rx="5"/><text class="s t5"><tspan x="1870" y="2586.2">在这学期里，我从思想上，利用师德师风教育</tspan><tspan x="1870" dy="14.2">活动端正自我；从行动上学电脑技术，学教学</tspan><tspan x="1870" dy="14.2">技能等；在生活上注意形象，为人师表。一学</tspan><tspan x="1870" dy="14.2">期来，我积极参加政治学习，努力提高自身的</tspan><tspan x="1870" dy="14.2">思想觉悟，服从学校的工作安排，默默无闻地</tspan><tspan x="1870" dy="14.2">配合领导和教师们做好校内外的各项工作，得</tspan><tspan x="1870" dy="14.2">到了领导和同事的肯定。这些肯定使我在以后</tspan><tspan x="1870" dy="14.2">的工作中变得更有信心、有动力去做好每一样</tspan><tspan x="1870" dy="14.2">工作。</tspan></text></g>
<g id="b5-s2"><rect class="f5" x="1767" y="2732" width="77" height="25" rx="5"/><text class="s t5" x="1772" y="2748.5">二、工作方面</text></g>
<g id="b5-b"><rect class="f5" x="1517" y="3231" width="208" height="25" rx="5"/><text class="s t5" x="1523" y="3247.5">这学期主要的工作主要包括在三个方面：</text></g>
<g id="b5-g1"><rect class="f5" x="1745" y="2791" width="230" height="40" rx="5"/><text class="s t5"><tspan x="1751" y="2807.9">一是担任九年级共4个班的信息技术课的教学</tspan><tspan x="1751" dy="14.2">。</tspan></text></g>
<g id="b5-g2"><rect class="f5" x="1745" y="2853" width="230" height="40" rx="5"/><text class="s t5"><tspan x="1751" y="2869.9">二是学校远程教育资源的接收、整理、运用及</tspan><tspan x="1751" dy="14.2">设备的检修、维护等工作。</tspan></text></g>
<g id="b5-g3"><rect class="f5" x="1745" y="2916" width="230" height="39" rx="5"/><text class="s t5"><tspan x="1751" y="2932.4">三是学校相关文件资料的打印及各项数据的录</tspan><tspan x="1751" dy="14.2">入、核算等。</tspan></text></g>
<g id="b5-g4"><rect class="f5" x="1745" y="2979" width="230" height="95" rx="5"/><text class="s t5"><tspan x="1751" y="2995">为了做好微机室管理工作，更好地完成教学任</tspan><tspan x="1751" dy="14.2">务、为教学服务，本学期继续以发现和培养具</tspan><tspan x="1751" dy="14.2">有综合素质的学生为小组长，具体分工，连带</tspan><tspan x="1751" dy="14.2">促进，使各班每个组在上课时都能相互配合，</tspan><tspan x="1751" dy="14.2">共同遵守微机室的规章制度，按教师要求进行</tspan><tspan x="1751" dy="14.2">正确操作，养成良好的学习习惯和卫生习惯。</tspan></text></g>
<g id="b5-g5"><rect class="f5" x="1745" y="3098" width="230" height="81" rx="5"/><text class="s t5"><tspan x="1751" y="3114.1">在远程教育管理方面，除及时认真地做收远程</tspan><tspan x="1751" dy="14.2">教育资源的接收、整理、刻录外，配合教务处</tspan><tspan x="1751" dy="14.2">为教师运用资源做好配套服务，如多媒体教室</tspan><tspan x="1751" dy="14.2">设备的调试、接收设备的维护、资源的浏览和</tspan><tspan x="1751" dy="14.2">整理等，同时认真做好各项记载。</tspan></text></g>
<g id="b5-g6"><rect class="f5" x="1745" y="3203" width="230" height="52" rx="5"/><text class="s t5"><tspan x="1751" y="3218.8">在设备维护方面，本学期本人对学校的微机进</tspan><tspan x="1751" dy="14.2">行了检修、保养，力求它们能够正常的工作，</tspan><tspan x="1751" dy="14.2">为学生创造一个良好的学习环境。</tspan></text></g>
<g id="b5-s3"><rect class="f5" x="1745" y="3401" width="77" height="25" rx="5"/><text class="s t5" x="1750" y="3417.5">三、业务方面</text></g>
<g id="b5-s3a"><rect class="f5" x="1842" y="3278" width="230" height="124" rx="5"/><text class="s t5"><tspan x="1848" y="3294.3">作为一名信息技术教师，应具有比别人更超前</tspan><tspan x="1848" dy="14.2">的目光，及时掌握最新的科技资讯。为此，我</tspan><tspan x="1848" dy="14.2">平时还虚心请教有经验的教师，经常上网浏览</tspan><tspan x="1848" dy="14.2">新课程教学及信息技术教学等资料，学习更多</tspan><tspan x="1848" dy="14.2">、更好、更新的知识。同时积极参加教研活动</tspan><tspan x="1848" dy="14.2">，多争取机会听评课，从中学习别人的长处，</tspan><tspan x="1848" dy="14.2">领悟其中的教学艺术，努力使自我向一名科研</tspan><tspan x="1848" dy="14.2">型教师看齐。</tspan></text></g>
<g id="b5-s3b"><rect class="f5" x="1842" y="3425" width="230" height="124" rx="5"/><text class="s t5"><tspan x="1848" y="3441.3">虽然工作量比较大，但为了提高教学水平和提</tspan><tspan x="1848" dy="14.2">高业务水平，本人在很多收集别人优秀设计、</tspan><tspan x="1848" dy="14.2">优秀架构，向有经验教师请教的基础上，利用</tspan><tspan x="1848" dy="14.2">本人有限的时间建成学校网站和个人教学博客</tspan><tspan x="1848" dy="14.2">，以利于同行间的交流和学习，方便学生与我</tspan><tspan x="1848" dy="14.2">的交流，也有利于及时掌握学生的动向、引导</tspan><tspan x="1848" dy="14.2">学生学习。在教学之余，我也注重积累和总结</tspan><tspan x="1848" dy="14.2">，本学期我被评为优秀教师。</tspan></text></g>
<g id="b5-s4"><rect class="f5" x="1745" y="3664" width="77" height="25" rx="5"/><text class="s t5" x="1750" y="3680.5">四、考勤方面</text></g>
<g id="b5-s4a"><rect class="f5" x="1842" y="3572" width="230" height="96" rx="5"/><text class="s t5"><tspan x="1848" y="3588.5">我在做好各项教育教学工作的同时，严格遵守</tspan><tspan x="1848" dy="14.2">学校的各项规章制度。处理好学校工作与私人</tspan><tspan x="1848" dy="14.2">之间的关系，不迟到不早退，有时还会加班加</tspan><tspan x="1848" dy="14.2">点，这同时锻炼了自我。对学校的工作尽职尽</tspan><tspan x="1848" dy="14.2">责，不论是学校分到的哪一项工作，我都配合</tspan><tspan x="1848" dy="14.2">同事尽自我的努力把工作做好。</tspan></text></g>
<g id="b5-s4b"><rect class="f5" x="1842" y="3691" width="230" height="83" rx="5"/><text class="s t5"><tspan x="1848" y="3708.1">"越是对事业爱得深，越感到自我对事业的不</tspan><tspan x="1848" dy="14.2">尽职。"在以后的教学工作中，我会在坚持原</tspan><tspan x="1848" dy="14.2">有优良作风的基础上不断发展，我必须要发扬</tspan><tspan x="1848" dy="14.2">优点，改正不足，扬长避短，争取更大的成绩</tspan><tspan x="1848" dy="14.2">。</tspan></text></g>
</svg>
